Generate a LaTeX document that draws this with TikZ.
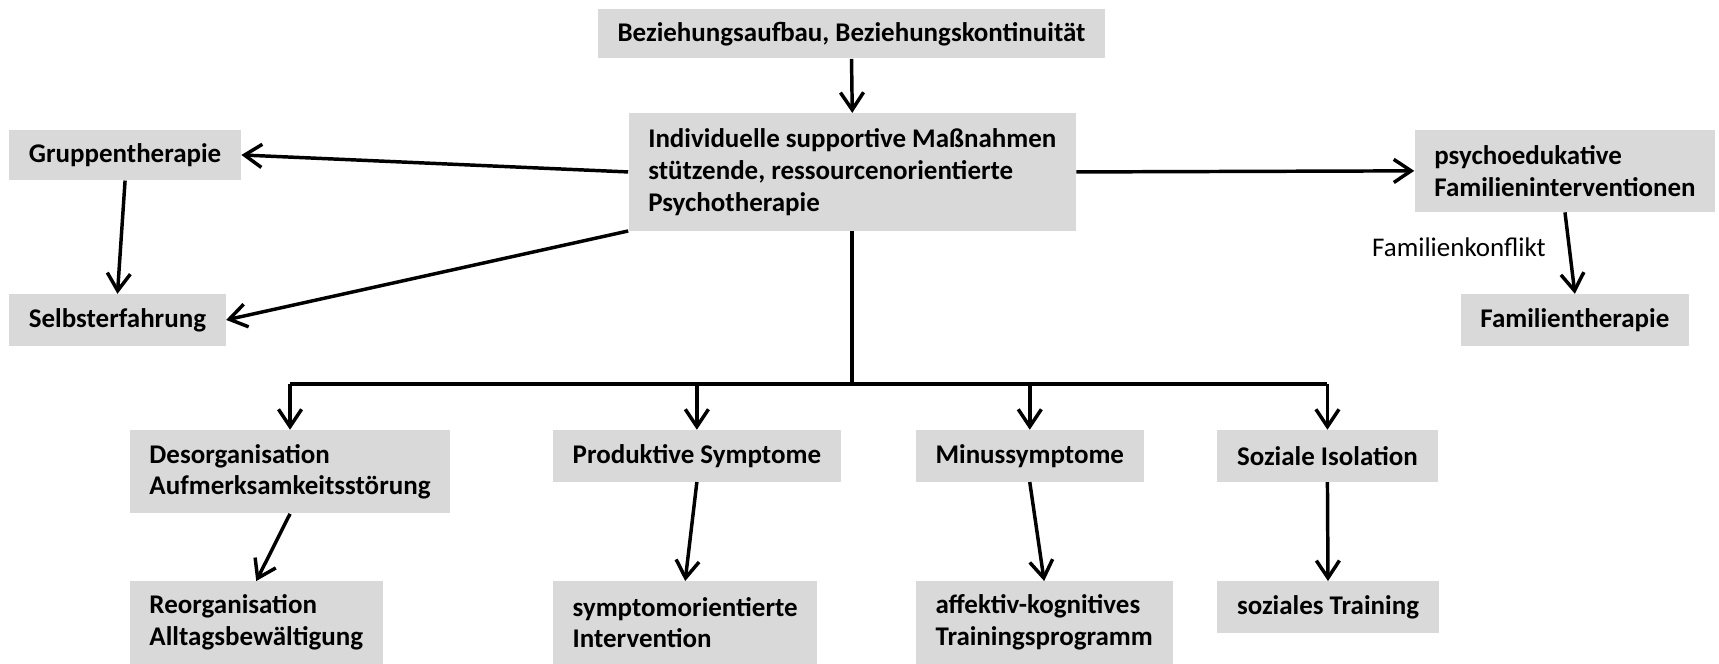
\documentclass[tikz,border=0pt]{standalone}
\usepackage{fontspec}
\setmainfont{Carlito}
\usetikzlibrary{arrows.meta,positioning}
\definecolor{boxgray}{HTML}{D9D9D9}

\begin{document}
\begin{tikzpicture}[
        box/.style={fill=boxgray, anchor=north west, align=left, inner xsep=0.36cm, inner ysep=0pt,
            font=\bfseries\fontsize{14}{16.5}\selectfont},
        pfeil/.style={line width=1.8pt, -{Straight Barb[length=9pt,width=12pt]}},
        linie/.style={line width=2pt}
    ]
        \useasboundingbox (0,0) rectangle (31.36,12.1);

        % Mitte
        \node[box, minimum height=0.9cm] (bez) at (10.9,11.94) {Beziehungsaufbau, Beziehungskontinuität};
        \node[box, minimum height=2.14cm] (indiv) at (11.46,10.04) {Individuelle supportive Maßnahmen\\stützende, ressourcenorientierte\\Psychotherapie};

        % links
        \node[box, minimum height=0.92cm] (gruppe) at (0.16,9.74) {Gruppentherapie};
        \node[box, minimum height=0.94cm] (selbst) at (0.16,6.74) {Selbsterfahrung};

        % rechts
        \node[box, minimum height=1.5cm] (psycho) at (25.8,9.74) {psychoedukative\\Familieninterventionen};
        \node[box, minimum height=0.94cm] (famth) at (26.64,6.74) {Familientherapie};

        % untere Reihen
        \node[box, minimum height=1.52cm] (desorg) at (2.36,4.26) {Desorganisation\\Aufmerksamkeitsstörung};
        \node[box, minimum height=0.94cm] (prod) at (10.08,4.26) {Produktive Symptome};
        \node[box, minimum height=0.94cm] (minus) at (16.7,4.26) {Minussymptome};
        \node[box, minimum height=0.94cm] (sozial) at (22.2,4.26) {Soziale Isolation};

        \node[box, minimum height=1.5cm] (reorg) at (2.36,1.5) {Reorganisation\\Alltagsbewältigung};
        \node[box, minimum height=1.5cm] (sympt) at (10.08,1.5) {symptomorientierte\\Intervention};
        \node[box, minimum height=1.5cm] (affekt) at (16.7,1.5) {affektiv-kognitives\\Trainingsprogramm};
        \node[box, minimum height=0.94cm] (training) at (22.2,1.5) {soziales Training};

        % Pfeile
        \draw[pfeil] (bez.south) -- (indiv.north);
        \draw[pfeil] (indiv.west) -- (gruppe.east);
        \draw[pfeil] (indiv.south west) -- (selbst.east);
        \draw[pfeil] (indiv.east) -- (psycho.west);
        \draw[pfeil] (gruppe.south) -- (selbst.north);
        \draw[pfeil] (psycho.south) -- (famth.north)
            node[pos=0.43, left=0.28cm, font=\fontsize{14}{16.5}\selectfont] (konflikt) {Familienkonflikt};

        % Verteiler
        \coordinate (bus) at (15.6,5.1);
        \draw[linie] (indiv.south) -- (indiv.south |- bus);
        \draw[linie] (desorg.north |- bus) -- (sozial.north |- bus);
        \draw[pfeil] (desorg.north |- bus) -- (desorg.north);
        \draw[pfeil] (prod.north |- bus) -- (prod.north);
        \draw[pfeil] (minus.north |- bus) -- (minus.north);
        \draw[pfeil] (sozial.north |- bus) -- (sozial.north);

        \draw[pfeil] (desorg.south) -- (reorg.north);
        \draw[pfeil] (prod.south) -- (sympt.north);
        \draw[pfeil] (minus.south) -- (affekt.north);
        \draw[pfeil] (sozial.south) -- (training.north);
    \end{tikzpicture}
\end{document}
